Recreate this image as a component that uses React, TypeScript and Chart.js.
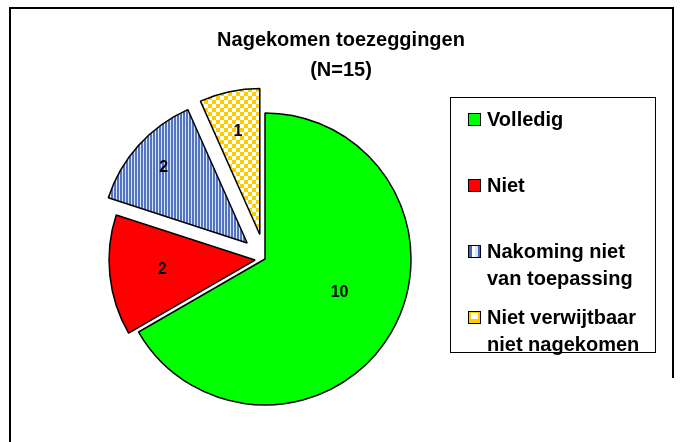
import React, { useEffect, useRef } from 'react';
import { Chart, registerables } from 'chart.js';

Chart.register(...registerables);

// ---- data ----
const CATEGORIES = ['Volledig', 'Niet', 'Nakoming niet van toepassing', 'Niet verwijtbaar niet nagekomen'];
const LEGEND_LINES = [['Volledig'], ['Niet'], ['Nakoming niet', 'van toepassing'], ['Niet verwijtbaar', 'niet nagekomen']];
const VALUES = [10, 2, 2, 1];
const TITLE_LINES = ['Nagekomen toezeggingen', '(N=15)'];

// ---- style ----
const FONT = '"Liberation Sans", Arial, sans-serif';
const EXPLODE = [0, 10, 24, 25];
const LABEL_POS = [0.56, 0.64, 0.77, 0.72];

function stripePattern(ctx: CanvasRenderingContext2D) {
  const c = document.createElement('canvas');
  c.width = 3; c.height = 4;
  const g = c.getContext('2d')!;
  g.fillStyle = '#5872c2'; g.fillRect(0, 0, 2, 4);
  g.fillStyle = '#cfeaff'; g.fillRect(2, 0, 1, 4);
  return ctx.createPattern(c, 'repeat')!;
}
function checkerPattern(ctx: CanvasRenderingContext2D) {
  const c = document.createElement('canvas');
  c.width = 8; c.height = 8;
  const g = c.getContext('2d')!;
  g.fillStyle = '#ffffff'; g.fillRect(0, 0, 8, 8);
  g.fillStyle = '#ffcc00'; g.fillRect(0, 0, 4, 4); g.fillRect(4, 4, 4, 4);
  return ctx.createPattern(c, 'repeat')!;
}

export default function App() {
  const ref = useRef<HTMLCanvasElement | null>(null);
  useEffect(() => {
    const canvas = ref.current!;
    const ctx = canvas.getContext('2d')!;
    const stripes = stripePattern(ctx);
    const checker = checkerPattern(ctx);
    const colors: (string | CanvasPattern)[] = ['#00ff00', '#ff0000', stripes, checker];

    const explodePlugin = {
      id: 'explode',
      afterDatasetUpdate(chart: any, args: any) {
        const meta = args.meta;
        meta.data.forEach((arc: any, i: number) => {
          const mid = (arc.startAngle + arc.endAngle) / 2;
          arc.x += Math.cos(mid) * EXPLODE[i];
          arc.y += Math.sin(mid) * EXPLODE[i];
        });
      },
    };

    const decorPlugin = {
      id: 'decor',
      beforeDraw(chart: any) {
        const c = chart.ctx;
        c.save();
        c.fillStyle = '#ffffff';
        c.fillRect(0, 0, chart.width, chart.height);
        c.strokeStyle = '#000000';
        c.lineWidth = 2;
        c.beginPath();
        c.moveTo(10, 442); c.lineTo(10, 8); c.lineTo(673, 8); c.lineTo(673, 378);
        c.stroke();
        // title
        c.fillStyle = '#000';
        c.font = `bold 20px ${FONT}`;
        c.textAlign = 'center';
        c.textBaseline = 'middle';
        c.fillText(TITLE_LINES[0], 341, 40);
        c.fillText(TITLE_LINES[1], 341, 70);
        // legend box
        c.lineWidth = 1;
        c.strokeStyle = '#000';
        c.strokeRect(450.5, 97.5, 205, 255);
        c.textAlign = 'left';
        LEGEND_LINES.forEach((lines, i) => {
          const yc = 119 + 66 * i;
          const sx = 468, sy = Math.round(yc - 6.5);
          if (i === 2) {
            c.fillStyle = '#ffffff'; c.fillRect(sx, sy, 13, 13);
            c.fillStyle = '#4a66c0'; c.fillRect(sx, sy, 4, 13); c.fillRect(sx + 10, sy, 3, 13);
            c.fillStyle = '#cfeaff'; c.fillRect(sx + 7, sy, 3, 13);
          } else if (i === 3) {
            c.fillStyle = '#ffcc00'; c.fillRect(sx, sy, 13, 13);
            c.fillStyle = '#ffffff'; c.fillRect(sx + 3, sy + 2, 7, 6);
          } else {
            c.fillStyle = colors[i] as string; c.fillRect(sx, sy, 13, 13);
          }
          c.strokeStyle = '#000'; c.lineWidth = 1;
          c.strokeRect(sx + 0.5, sy + 0.5, 12, 12);
          c.fillStyle = '#000';
          c.font = `bold 20px ${FONT}`;
          lines.forEach((t, j) => c.fillText(t, 487, yc + 27 * j + 1));
        });
        c.restore();
      },
      afterDatasetsDraw(chart: any) {
        const c = chart.ctx;
        const meta = chart.getDatasetMeta(0);
        c.save();
        c.fillStyle = '#000';
        c.font = `bold 16px ${FONT}`;
        c.textAlign = 'center';
        c.textBaseline = 'middle';
        meta.data.forEach((arc: any, i: number) => {
          const mid = (arc.startAngle + arc.endAngle) / 2 - (i === 0 ? 0.1 : 0);
          const r = arc.outerRadius * LABEL_POS[i];
          c.fillText(String(VALUES[i]), arc.x + Math.cos(mid) * r, arc.y + Math.sin(mid) * r);
        });
        c.restore();
      },
    };

    const chart = new Chart(canvas, {
      type: 'pie',
      data: {
        labels: CATEGORIES,
        datasets: [{
          data: VALUES,
          backgroundColor: colors as any,
          borderColor: '#000000',
          borderWidth: 1.5,
          offset: 0,
          hoverOffset: 0,
        }],
      },
      options: {
        responsive: false,
        animation: false,
        radius: 146,
        layout: { padding: { left: 106, right: 258, top: 100, bottom: 24 } },
        plugins: { legend: { display: false }, title: { display: false }, tooltip: { enabled: false } },
        events: [],
      } as any,
      plugins: [explodePlugin, decorPlugin],
    });
    return () => chart.destroy();
  }, []);

  return (
    <div style={{ position: 'fixed', left: 0, top: 0, width: 682, height: 442, overflow: 'hidden', background: '#fff' }}>
      <canvas ref={ref} width={682} height={442} style={{ display: 'block', width: 682, height: 442 }} />
    </div>
  );
}
